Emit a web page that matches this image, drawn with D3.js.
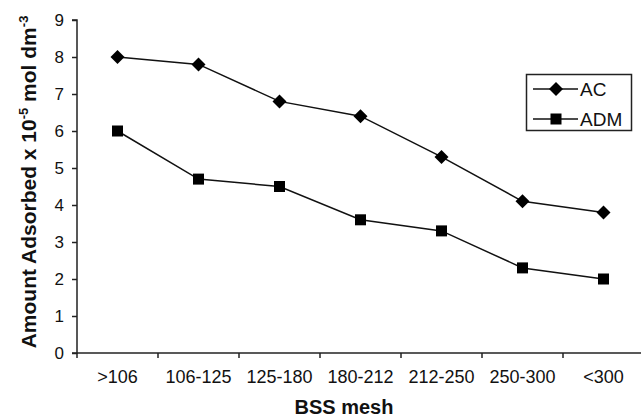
<!DOCTYPE html>
<html><head><meta charset="utf-8">
<script src="https://cdn.jsdelivr.net/npm/d3@7"></script>
<style>body{margin:0;background:#fff}svg{display:block}text{font-family:"Liberation Sans",Arial,sans-serif;fill:#111}</style>
</head><body><svg id="c" width="641" height="418"></svg>
<script>
const categories = [">106","106-125","125-180","180-212","212-250","250-300","<300"];
const acValues = [8.0,7.8,6.8,6.4,5.3,4.1,3.8];
const admValues = [6.0,4.7,4.5,3.6,3.3,2.3,2.0];
const yTicks = [0,1,2,3,4,5,6,7,8,9];
const seriesNames = ["AC","ADM"];

(function(){
const svg = d3.select("#c");
const mLeft = 77, mRight = 644, mTop = 20, mBottom = 353;
const x = d3.scaleBand().domain(categories).range([mLeft, mRight]).padding(0);
const y = d3.scaleLinear().domain([0,9]).range([mBottom, mTop]);

const yAxis = svg.append("g").attr("transform",`translate(${mLeft},0)`)
  .call(d3.axisLeft(y).tickValues(yTicks).tickSize(5).tickPadding(8).tickFormat(d3.format("d")));
yAxis.selectAll("text").style("font-size","17px").attr("fill","#111");
const xAxis = svg.append("g").attr("transform",`translate(0,${mBottom})`)
  .call(d3.axisBottom(x).tickSize(5).tickPadding(12));
xAxis.selectAll(".tick line").attr("transform",`translate(${-x.bandwidth()/2},0)`);
xAxis.selectAll("text").style("font-size","18px").attr("fill","#111");
[yAxis,xAxis].forEach(a=>{a.selectAll("path,line").attr("stroke","#222").attr("stroke-width",1.5);});
yAxis.select(".domain").attr("d",`M-5,${mBottom}H0V${mTop}H-5`);
xAxis.select(".domain").attr("d",`M${mLeft},0H${mRight}`);

const cx = d => x(d) + x.bandwidth()/2;
const line = d3.line().x((d,i)=>cx(categories[i])).y(d=>y(d));
[acValues, admValues].forEach(vals=>{
  svg.append("path").datum(vals).attr("d",line).attr("fill","none").attr("stroke","#111").attr("stroke-width",1.5);
});
svg.append("g").selectAll("path").data(acValues).join("path")
  .attr("d","M0,-7L7,0L0,7L-7,0Z")
  .attr("transform",(d,i)=>`translate(${cx(categories[i])},${y(d)})`).attr("fill","#000");
svg.append("g").selectAll("rect").data(admValues).join("rect")
  .attr("x",(d,i)=>cx(categories[i])-5.5).attr("y",d=>y(d)-5.5).attr("width",11).attr("height",11).attr("fill","#000");

svg.append("text").attr("x",344).attr("y",414).attr("text-anchor","middle")
  .style("font-size","20px").style("font-weight","bold").text("BSS mesh");
const yt = svg.append("text").attr("transform","translate(36,182) rotate(-90)").attr("text-anchor","middle")
  .style("font-size","21px").style("font-weight","bold");
yt.append("tspan").text("Amount Adsorbed x 10");
yt.append("tspan").attr("dy",-8).style("font-size","13px").text("-5");
yt.append("tspan").attr("dy",8).text(" mol dm");
yt.append("tspan").attr("dy",-8).style("font-size","13px").text("-3");

const lg = svg.append("g");
lg.append("rect").attr("x",526.5).attr("y",74.5).attr("width",105).attr("height",56).attr("fill","#fff").attr("stroke","#222").attr("stroke-width",1.5);
seriesNames.forEach((n,i)=>{
  const yy = 89 + i*30;
  lg.append("line").attr("x1",533).attr("x2",578).attr("y1",yy).attr("y2",yy).attr("stroke","#111").attr("stroke-width",1.5);
  if(i===0) lg.append("path").attr("d","M0,-7L7,0L0,7L-7,0Z").attr("transform",`translate(556,${yy})`).attr("fill","#000");
  else lg.append("rect").attr("x",550.5).attr("y",yy-5.5).attr("width",11).attr("height",11).attr("fill","#000");
  lg.append("text").attr("x",580).attr("y",yy+7).style("font-size","19px").text(n);
});
})();
</script></body></html>
